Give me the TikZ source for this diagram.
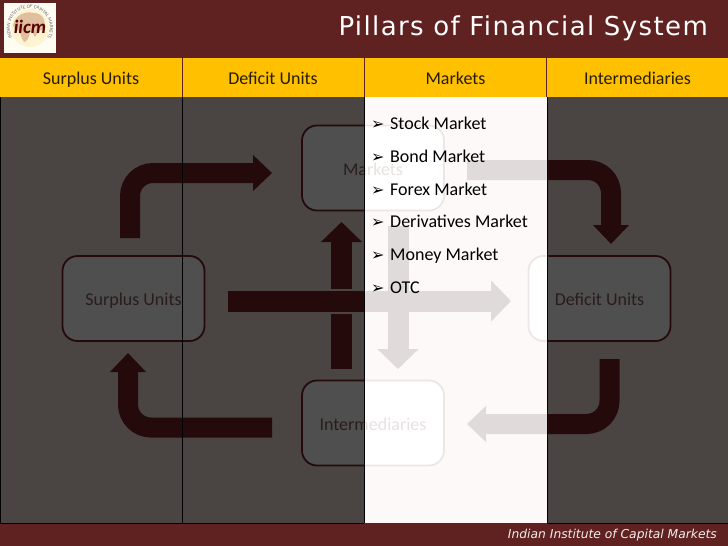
\documentclass[tikz,border=0pt]{standalone}
\usepackage{fontspec}
\setmainfont{Carlito}
\newfontfamily\symbfont{DejaVu Sans}
\newfontfamily\titlefont[LetterSpace=5.3]{DejaVu Sans}
\usetikzlibrary{arrows.meta,decorations.text}

\definecolor{slidered}{HTML}{5F2221}
\definecolor{headgold}{HTML}{FFC000}
\definecolor{coldark}{HTML}{4A4543}
\definecolor{collite}{HTML}{FDF9F8}
\definecolor{boxdark}{HTML}{4F4F4F}
\definecolor{boxlite}{HTML}{FFFFFF}
\definecolor{linedark}{HTML}{240A0A}
\definecolor{linelite}{HTML}{ECE6E5}
\definecolor{textdark}{HTML}{2A1C1C}
\definecolor{textlite}{HTML}{E8E2E1}
\definecolor{flowdark}{HTML}{240A0A}
\definecolor{flowlite}{HTML}{E0DADA}

\newcommand{\itemmark}{\makebox[18pt][l]{\hspace{-1pt}\symbfont\fontsize{16}{16}\selectfont ➢}}

\tikzset{
  headcell/.style={fill=headgold,minimum width=182pt,minimum height=39pt,inner sep=0pt,text height=13pt,text depth=0pt,font=\fontsize{18}{18}\selectfont,text=black!85!headgold},
  unitbox/.style={rounded corners=15pt,line width=1.8pt,minimum width=142pt,minimum height=85pt,inner sep=0pt,text height=14pt,text depth=0pt,font=\fontsize{18}{18}\selectfont},
  listitem/.style={anchor=west,inner sep=0pt,text height=13pt,text depth=0pt,text=black,font=\fontsize{18}{18}\selectfont},
  flow/.style={line width=21pt,-{Triangle[length=20pt,width=40pt]}},
  bentflow/.style={line width=20pt,-{Triangle[length=19pt,width=35pt]},rounded corners=23pt}
}

\begin{document}
\begin{tikzpicture}[x=1pt,y=-1pt]
\useasboundingbox (0,0) rectangle (728,546);
\fill [slidered] (0,0) rectangle (728,546);

\node (title)  at (708, 28) [anchor=east,inner sep=0pt,text=white,font=\fontsize{26}{26}\selectfont\titlefont] {Pillars of Financial System};
\node (footer) at (717,535) [anchor=east,inner sep=0pt,text=white!92!slidered,font=\fontsize{12.3}{13}\selectfont\symbfont\itshape] {Indian Institute of Capital Markets};

\node (head1) at ( 91.0,77.5) [headcell] {Surplus Units};
\node (head2) at (273.0,77.5) [headcell] {Deficit Units};
\node (head3) at (455.5,77.5) [headcell] {Markets};
\node (head4) at (637.5,77.5) [headcell] {Intermediaries};
\draw [slidered,line width=0.7pt] (head1.north east) -- (head1.south east);
\draw [slidered,line width=0.7pt] (head3.north east) -- (head3.south east);
\draw [slidered!60!headgold,line width=0.9pt] (head1.south west) -- (head4.south east);

\coordinate (a1) at (130,238); \coordinate (a2) at (130,173); \coordinate (a3) at (272,173);
\coordinate (b1) at (467,170); \coordinate (b2) at (611,170); \coordinate (b3) at (611,244);
\coordinate (c1) at (609.5,359); \coordinate (c2) at (609.5,424); \coordinate (c3) at (467,424);
\coordinate (d1) at (272,427.5); \coordinate (d2) at (128,427.5); \coordinate (d3) at (128,353);
\coordinate (e1) at (228,301); \coordinate (e2) at (511,301);
\coordinate (f1) at (341.5,369); \coordinate (f2) at (341.5,222);
\coordinate (g1) at (398,226); \coordinate (g2) at (398,369);

\foreach \xa/\xb/\tone in {0/364/dark,364/547/lite,547/728/dark} {
  \begin{scope}
  \clip (\xa,97.5) rectangle (\xb,523);
  \fill [col\tone] (\xa,97) rectangle (\xb,523);
  \node (markets)  at (373,168)   [unitbox,draw=line\tone,fill=box\tone,text=text\tone] {Markets};
  \node (surplus)  at (133.5,298.5) [unitbox,draw=line\tone,fill=box\tone,text=text\tone] {Surplus Units};
  \node (deficit)  at (599.5,298.5) [unitbox,draw=line\tone,fill=box\tone,text=text\tone] {Deficit Units};
  \node (intermed) at (373,423)   [unitbox,draw=line\tone,fill=box\tone,text=text\tone] {Intermediaries};
  \draw [bentflow,flow\tone] (a1) |- (a3);
  \draw [bentflow,flow\tone] (b1) -| (b3);
  \draw [bentflow,flow\tone] (c1) |- (c3);
  \draw [bentflow,flow\tone] (d1) -| (d3);
  \draw [flow,flow\tone] (f1) -- (f2);
  \draw [line width=25pt,col\tone] (e1) -- (495,301);
  \draw [flow,flow\tone] (e1) -- (e2);
  \draw [flow,flow\tone] (g1) -- (g2);
  \end{scope}
}

\draw [black,line width=0.9pt] (0.5,97) -- (0.5,523) -- (364,523);
\draw [black,line width=0.9pt] (547,523) -- (728,523);
\draw [black,line width=0.9pt] (182.5,97) -- (182.5,523);
\draw [black,line width=0.9pt] (364,97) -- (364,523);
\draw [black,line width=0.9pt] (547,97) -- (547,523);

\node (stock) at (372,123.0) [listitem] {\itemmark Stock Market};
\node (bond)  at (372,156.0) [listitem] {\itemmark Bond Market};
\node (forex) at (372,188.5) [listitem] {\itemmark Forex Market};
\node (deriv) at (372,221.0) [listitem] {\itemmark Derivatives Market};
\node (money) at (372,253.5) [listitem] {\itemmark Money Market};
\node (otc)   at (372,287.0) [listitem] {\itemmark OTC};

% logo
\fill [white!95!headgold] (4,3) rectangle (56,53);
\fill [headgold!18] (30,28) circle (19pt);
\fill [brown!50!white] (13,25) .. controls (16,14) and (26,11) .. (34,13) .. controls (44,13) and (47,24) .. (43,29) .. controls (39,31) and (37,33) .. (35,37) .. controls (33,33) and (32,31) .. (30,31) .. controls (30,38) and (26,42) .. (24,42) .. controls (21,38) and (21,34) .. (19,31) .. controls (16,31) and (14,29) .. (13,25);
\node (iicm) at (30,27) [inner sep=0pt,text=red!35!black,font=\fontsize{19}{19}\selectfont\bfseries\itshape\rmfamily] {iicm};
\path [decorate,decoration={text along path,text align=center,text color=black!60,text={|\fontsize{5}{6}\selectfont|INDIAN INSTITUTE OF CAPITAL MARKETS}}] (26.4,47.7) arc (-100:-440:20pt);
\end{tikzpicture}
\end{document}
